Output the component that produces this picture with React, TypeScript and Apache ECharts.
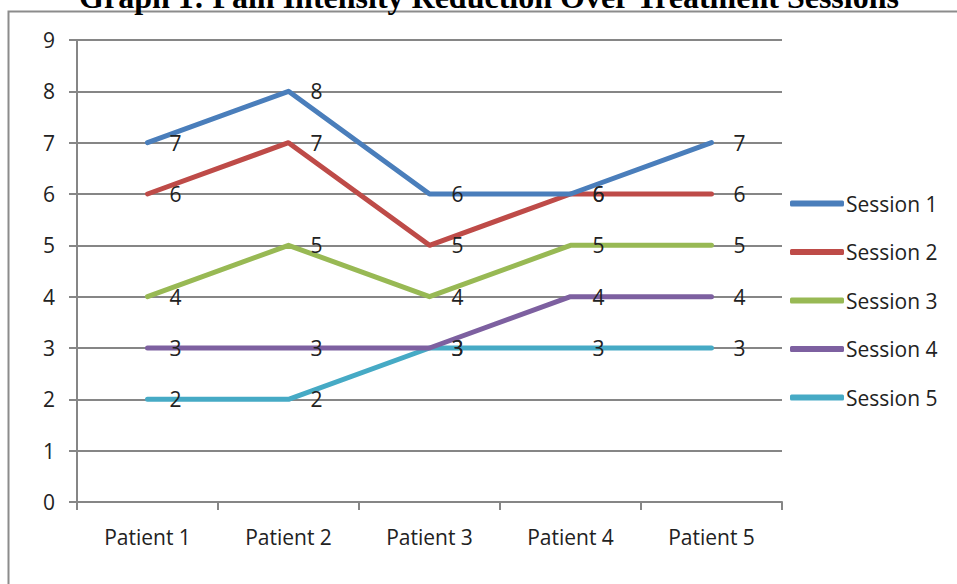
import React, { useEffect, useRef } from "react";
import * as echarts from "echarts";

const categories = ["Patient 1", "Patient 2", "Patient 3", "Patient 4", "Patient 5"];
const seriesNames = ["Session 1", "Session 2", "Session 3", "Session 4", "Session 5"];
const session1 = [7, 8, 6, 6, 7];
const session2 = [6, 7, 5, 6, 6];
const session3 = [4, 5, 4, 5, 5];
const session4 = [3, 3, 3, 4, 4];
const session5 = [2, 2, 3, 3, 3];
const colors = ["#4A7EBB", "#BE4B48", "#98B954", "#7D60A0", "#46AAC5"];
const titleText = "Graph 1: Pain Intensity Reduction Over Treatment Sessions";

const FONT = "'Open Sans', sans-serif";

export default function App() {
  const ref = useRef<HTMLDivElement>(null);
  useEffect(() => {
    if (!ref.current) return;
    const chart = echarts.init(ref.current, undefined, { renderer: "svg" });
    const data = [session1, session2, session3, session4, session5];
    chart.setOption({
      animation: false,
      backgroundColor: "#fff",
      graphic: [
        {
          type: "rect",
          shape: { x: 8.5, y: 11.5, width: 1000, height: 700 },
          style: { fill: "none", stroke: "#8c8c8c", lineWidth: 2 },
          silent: true,
          z: 0,
        },
        {
          type: "text",
          x: 489,
          y: 13,
          style: {
            text: titleText,
            font: "bold 32px 'Liberation Serif', 'Times New Roman', serif",
            fill: "#000",
            textAlign: "center",
            textVerticalAlign: "bottom",
          },
        },
      ],
      legend: {
        orient: "vertical",
        left: 785,
        top: 188,
        itemWidth: 54,
        itemHeight: 6,
        itemGap: 27.5,
        icon: "roundRect",
        data: seriesNames,
        textStyle: { fontFamily: FONT, fontSize: 21, color: "#222", padding: [0, 0, 0, -3] },
      },
      grid: { left: 77, right: 175, top: 40, bottom: 82, containLabel: false },
      xAxis: {
        type: "category",
        data: categories,
        boundaryGap: true,
        axisLine: { lineStyle: { color: "#868686", width: 2 } },
        axisTick: { show: true, length: 8, lineStyle: { color: "#868686", width: 2 } },
        axisLabel: { fontFamily: FONT, fontSize: 21, color: "#222", margin: 24 },
      },
      yAxis: {
        type: "value",
        min: 0,
        max: 9,
        interval: 1,
        axisLine: { show: true, lineStyle: { color: "#868686", width: 2 } },
        axisTick: { show: true, length: 8, lineStyle: { color: "#868686", width: 2 } },
        axisLabel: { fontFamily: FONT, fontSize: 21, color: "#222", margin: 22 },
        splitLine: { show: true, lineStyle: { color: "#868686", width: 2 } },
      },
      series: data.map((d, i) => ({
        name: seriesNames[i],
        type: "line",
        data: d,
        symbol: "circle",
        symbolSize: 0,
        showSymbol: true,
        color: colors[i],
        itemStyle: { color: colors[i] },
        lineStyle: { width: 5, color: colors[i], cap: "round", join: "round" },
        labelLayout: { hideOverlap: false },
        label: {
          show: true,
          position: "right",
          distance: 22,
          offset: [0, 3],
          fontFamily: FONT,
          fontSize: 21,
          color: "#222",
        },
        z: 10 - i,
      })),
    });
    return () => chart.dispose();
  }, []);
  return (
    <div
      ref={ref}
      style={{ position: "fixed", left: 0, top: 0, width: 957, height: 584 }}
    />
  );
}
